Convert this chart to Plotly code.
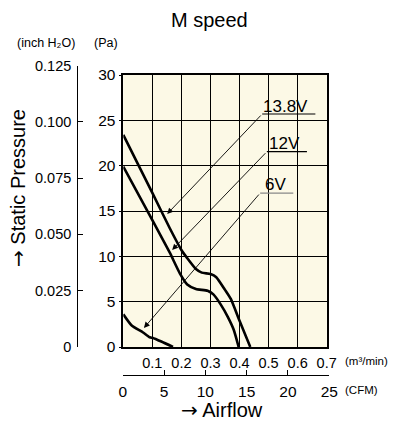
import plotly.graph_objects as go

# ---- data (airflow m3/min, static pressure Pa) ----
v138_x = [0.0, 0.10, 0.16, 0.20, 0.22, 0.25, 0.27, 0.30, 0.32, 0.35, 0.37, 0.40, 0.437]
v138_y = [23.4, 17.0, 13.1, 10.7, 9.8, 8.6, 8.2, 8.05, 7.7, 6.3, 5.3, 2.9, 0.0]

v12_x = [0.0, 0.10, 0.16, 0.195, 0.22, 0.25, 0.29, 0.31, 0.335, 0.36, 0.38, 0.397]
v12_y = [19.9, 14.0, 10.4, 8.1, 6.9, 6.4, 6.2, 5.8, 4.7, 3.3, 1.9, 0.0]

v6_x = [0.0, 0.028, 0.068, 0.091, 0.102, 0.131, 0.171]
v6_y = [3.6, 2.4, 1.6, 1.07, 1.0, 0.6, 0.0]

labels = ["13.8V", "12V", "6V"]
pa_ticks = [0, 5, 10, 15, 20, 25, 30]
m3_ticks = [0.1, 0.2, 0.3, 0.4, 0.5, 0.6, 0.7]
m3_ticktext = ["0.1", "0.2", "0.3", "0.4", "0.5", "0.6", "0.7"]
cfm_ticks = [0, 5, 10, 15, 20, 25]
inch_ticks = [0, 0.025, 0.05, 0.075, 0.1, 0.125]
inch_ticktext = ["0", "0.025", "0.050", "0.075", "0.100", "0.125"]

OFF = 8  # browser body margin
W, H = 403 - OFF, 421 - OFF
FONT = "Liberation Sans, Arial, Helvetica, sans-serif"
CREAM = "#FCF9E6"
ARROW = '<span style="font-family:DejaVu Sans">→</span>'

def px(x):
    return (x - OFF) / W

def py(y):
    return (H - (y - OFF)) / H

fig = go.Figure()
line_style = dict(color="black", width=2.6, shape="spline", smoothing=0.5)
for xs, ys, name in [(v138_x, v138_y, labels[0]), (v12_x, v12_y, labels[1]), (v6_x, v6_y, labels[2])]:
    fig.add_trace(go.Scatter(x=xs, y=ys, mode="lines", line=line_style, name=name,
                             showlegend=False, hoverinfo="skip"))

# invisible trace to carry secondary axes (CFM, inch H2O)
fig.add_trace(go.Scatter(x=[0, 25], y=[0, 0.125], xaxis="x2", yaxis="y2", mode="markers",
                         marker=dict(opacity=0), showlegend=False, hoverinfo="skip"))

# label positions (data coords): text center, underline, arrow tip
lab_text = [(0.5576, 26.5), (0.556, 22.5), (0.525, 17.87)]
lab_under = [(0.478, 0.661, 25.7), (0.494, 0.632, 21.54), (0.471, 0.585, 16.98)]
lab_tip = [(0.151, 14.67), (0.168, 10.7), (0.071, 2.1)]
under_col = ["black", "black", "#888888"]

annotations = []
shapes = [dict(type="rect", xref="x domain", yref="y domain", x0=0, x1=1, y0=0, y1=1,
               fillcolor=CREAM, line=dict(width=0), layer="below")]
for i, lab in enumerate(labels):
    tx, ty = lab_text[i]
    annotations.append(dict(x=tx, y=ty, xref="x", yref="y", text=lab, showarrow=False,
                            xanchor="center", yanchor="middle",
                            font=dict(family=FONT, size=17, color="black")))
    x0, x1, yu = lab_under[i]
    shapes.append(dict(type="line", xref="x", yref="y", x0=x0, x1=x1, y0=yu, y1=yu,
                       line=dict(color=under_col[i], width=1.2)))
    annotations.append(dict(x=lab_tip[i][0], y=lab_tip[i][1], xref="x", yref="y",
                            ax=x0, ay=yu, axref="x", ayref="y", text="", showarrow=True,
                            arrowhead=2, arrowsize=1.3, arrowwidth=0.9, arrowcolor="black"))

def txt(x, y, s, size, xanchor="center", angle=0):
    return dict(x=px(x), y=py(y), xref="paper", yref="paper", text=s, showarrow=False,
                xanchor=xanchor, yanchor="middle", textangle=angle,
                font=dict(family=FONT, size=size, color="black"))

annotations += [
    txt(210, 20, "M speed", 20),
    txt(15, 43, "(inch H₂O)", 12.5, "left"),
    txt(92, 43, "(Pa)", 12.5, "left"),
    txt(18, 188, ARROW + " Static Pressure", 20, "center", -90),
    txt(222, 410, ARROW + " Airflow", 20),
    txt(343, 361, "(m³/min)", 11.5, "left"),
    txt(343, 390, "(CFM)", 11.5, "left"),
]

fig.update_layout(
    width=W, height=H,
    margin=dict(l=0, r=0, t=0, b=0, autoexpand=False),
    paper_bgcolor="white",
    plot_bgcolor="rgba(0,0,0,0)",
    font=dict(family=FONT, size=15, color="black"),
    xaxis=dict(domain=[px(123.3), px(326.7)], range=[0, 0.7], tickvals=m3_ticks, ticktext=m3_ticktext,
               showgrid=True, gridcolor="black", gridwidth=1.3, showline=True, mirror=True,
               linecolor="black", linewidth=1.5, ticks="", zeroline=False, ticklabelstandoff=2,
               tickfont=dict(family=FONT, size=14.5)),
    yaxis=dict(domain=[py(347), py(75)], range=[0, 30], tickvals=pa_ticks,
               showgrid=True, gridcolor="black", gridwidth=1.3, showline=True, mirror=True,
               linecolor="black", linewidth=1.5, ticks="outside", ticklen=3, tickcolor="black",
               zeroline=False, tickfont=dict(family=FONT, size=15.5)),
    xaxis2=dict(domain=[px(122.7), px(329.3)], range=[0, 25], anchor="free", position=py(375),
                tickvals=cfm_ticks, showgrid=False, showline=True, linecolor="black", linewidth=1.2,
                ticks="inside", ticklen=5, tickcolor="black", zeroline=False, ticklabelstandoff=2,
                tickfont=dict(family=FONT, size=15.5)),
    yaxis2=dict(domain=[py(347), py(65.5)], range=[0, 0.125], anchor="free", position=px(77.3),
                tickvals=inch_ticks, ticktext=inch_ticktext, showgrid=False, showline=True,
                linecolor="black", linewidth=1.2, ticks="inside", ticklen=5, tickcolor="black",
                zeroline=False, ticklabelstandoff=3, tickfont=dict(family=FONT, size=14.5)),
    annotations=annotations,
    shapes=shapes,
)

fig.write_html("out.html")
